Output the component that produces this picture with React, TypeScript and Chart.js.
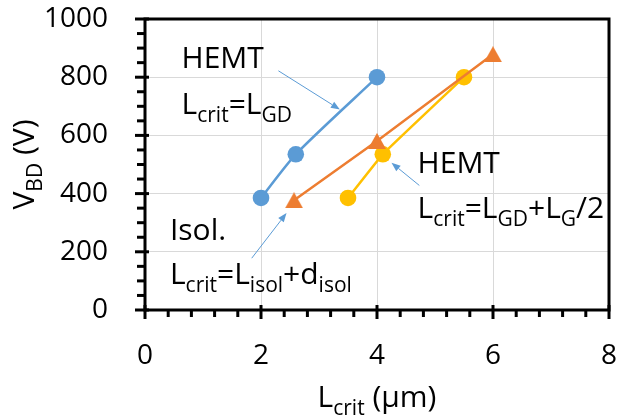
import React, { useEffect, useRef } from "react";
import { Chart, registerables } from "chart.js";

Chart.register(...registerables);

const FONT = '"Open Sans", "DejaVu Sans", sans-serif';

// ---- data ----
const xMin = 0;
const xMax = 8;
const xStep = 2;
const yMin = 0;
const yMax = 1000;
const yStep = 200;

const hemtGdX = [2, 2.6, 4];
const hemtGdY = [385, 535, 800];
const isolX = [2.57, 4, 6];
const isolY = [377, 581, 879];
const hemtHalfX = [3.5, 4.1, 5.5];
const hemtHalfY = [385, 535, 800];

// rich-text annotations (anchor = left baseline, in data units)
type Seg = { t: string; sub?: boolean };
const annoText: { x: number; y: number; segs: Seg[] }[] = [
  { x: 0.63, y: 830, segs: [{ t: "HEMT" }] },
  { x: 0.63, y: 675, segs: [{ t: "L" }, { t: "crit", sub: true }, { t: "=L" }, { t: "GD", sub: true }] },
  { x: 4.7, y: 470, segs: [{ t: "HEMT" }] },
  {
    x: 4.7,
    y: 316,
    segs: [
      { t: "L" }, { t: "crit", sub: true }, { t: "=L" }, { t: "GD", sub: true },
      { t: "+L" }, { t: "G", sub: true }, { t: "/2" },
    ],
  },
  { x: 0.43, y: 241, segs: [{ t: "Isol." }] },
  {
    x: 0.43,
    y: 91,
    segs: [{ t: "L" }, { t: "crit", sub: true }, { t: "=L" }, { t: "isol", sub: true }, { t: "+d" }, { t: "isol", sub: true }],
  },
];

// arrows [fromX, fromY, toX, toY] in data units
const arrows: number[][] = [
  [2.3, 822, 3.36, 689],
  [4.73, 428, 4.25, 506],
  [1.84, 178, 2.44, 333],
];

const xTitle: Seg[] = [{ t: "L" }, { t: "crit", sub: true }, { t: " (\u00B5m)" }];
const yTitle: Seg[] = [{ t: "V" }, { t: "BD", sub: true }, { t: " (V)" }];

const BLUE = "#5B9BD5";
const ORANGE = "#ED7D31";
const YELLOW = "#FFC000";

const MAIN = 30;
const SUB = 21;
const DROP = 8;

function richWidth(ctx: CanvasRenderingContext2D, segs: Seg[]) {
  let w = 0;
  for (const s of segs) {
    ctx.font = `${s.sub ? SUB : MAIN}px ${FONT}`;
    w += ctx.measureText(s.t).width;
  }
  return w;
}

function drawRich(ctx: CanvasRenderingContext2D, segs: Seg[], x: number, y: number) {
  let cx = x;
  for (const s of segs) {
    ctx.font = `${s.sub ? SUB : MAIN}px ${FONT}`;
    ctx.fillText(s.t, cx, s.sub ? y + DROP : y);
    cx += ctx.measureText(s.t).width;
  }
}

function makeTriangle(color: string) {
  const w = 18;
  const h = 16;
  const c = document.createElement("canvas");
  c.width = w;
  c.height = h;
  const g = c.getContext("2d")!;
  g.fillStyle = color;
  g.beginPath();
  g.moveTo(w / 2, 0);
  g.lineTo(w, h);
  g.lineTo(0, h);
  g.closePath();
  g.fill();
  return c;
}

const decorPlugin = {
  id: "decor",
  afterDatasetsDraw(chart: any) {
    const ctx: CanvasRenderingContext2D = chart.ctx;
    const { left, right, top, bottom } = chart.chartArea;
    const xs = chart.scales.x;
    const ys = chart.scales.y;
    ctx.save();

    // frame
    ctx.strokeStyle = "#000";
    ctx.lineWidth = 3;
    ctx.strokeRect(left, top, right - left, bottom - top);

    // x ticks
    ctx.lineWidth = 3;
    for (let v = xMin; v <= xMax + 1e-9; v += 0.4) {
      const px = xs.getPixelForValue(v);
      const major = Math.abs(v / xStep - Math.round(v / xStep)) < 1e-6;
      ctx.beginPath();
      ctx.moveTo(px, major ? bottom - 5 : bottom);
      ctx.lineTo(px, major ? bottom + 9 : bottom + 7);
      ctx.stroke();
    }
    // y ticks
    for (let v = yMin; v <= yMax + 1e-9; v += 50) {
      const py = ys.getPixelForValue(v);
      const major = v % yStep === 0;
      ctx.beginPath();
      ctx.moveTo(major ? left - 10 : left - 8, py);
      ctx.lineTo(major ? left + 4 : left, py);
      ctx.stroke();
    }

    // arrows
    ctx.strokeStyle = BLUE;
    ctx.fillStyle = BLUE;
    ctx.lineWidth = 1;
    for (const a of arrows) {
      const x1 = xs.getPixelForValue(a[0]);
      const y1 = ys.getPixelForValue(a[1]);
      const x2 = xs.getPixelForValue(a[2]);
      const y2 = ys.getPixelForValue(a[3]);
      const ang = Math.atan2(y2 - y1, x2 - x1);
      const L = 9;
      const W = 3.5;
      const bx = x2 - Math.cos(ang) * L;
      const by = y2 - Math.sin(ang) * L;
      ctx.beginPath();
      ctx.moveTo(x1, y1);
      ctx.lineTo(bx, by);
      ctx.stroke();
      ctx.beginPath();
      ctx.moveTo(x2, y2);
      ctx.lineTo(bx + Math.sin(ang) * W, by - Math.cos(ang) * W);
      ctx.lineTo(bx - Math.sin(ang) * W, by + Math.cos(ang) * W);
      ctx.closePath();
      ctx.fill();
    }

    // annotations
    ctx.fillStyle = "#000";
    ctx.textBaseline = "alphabetic";
    ctx.textAlign = "left";
    for (const a of annoText) {
      drawRich(ctx, a.segs, xs.getPixelForValue(a.x), ys.getPixelForValue(a.y));
    }

    // x title
    const xw = richWidth(ctx, xTitle);
    drawRich(ctx, xTitle, (left + right) / 2 - xw / 2, 407);

    // y title
    const yw = richWidth(ctx, yTitle);
    ctx.translate(34, (top + bottom) / 2);
    ctx.rotate(-Math.PI / 2);
    drawRich(ctx, yTitle, -yw / 2, 0);

    ctx.restore();
  },
};

const zeroPad = (s: any) => {
  s.paddingTop = 0;
  s.paddingBottom = 0;
  s.paddingLeft = 0;
  s.paddingRight = 0;
};

export default function App() {
  const ref = useRef<HTMLCanvasElement | null>(null);

  useEffect(() => {
    if (!ref.current) return;
    const tri = makeTriangle(ORANGE);
    const mk = (xs: number[], ys: number[]) => xs.map((x, i) => ({ x, y: ys[i] }));
    const chart = new Chart(ref.current, {
      type: "scatter",
      data: {
        datasets: [
          {
            data: mk(hemtGdX, hemtGdY),
            showLine: true,
            borderColor: BLUE,
            backgroundColor: BLUE,
            borderWidth: 2.5,
            pointRadius: 8.3,
            pointBorderWidth: 0,
            tension: 0.25,
          },
          {
            data: mk(isolX, isolY),
            showLine: true,
            borderColor: ORANGE,
            backgroundColor: ORANGE,
            borderWidth: 2.5,
            pointStyle: tri as any,
            tension: 0,
          },
          {
            data: mk(hemtHalfX, hemtHalfY),
            showLine: true,
            borderColor: YELLOW,
            backgroundColor: YELLOW,
            borderWidth: 2.5,
            pointRadius: 8.3,
            pointBorderWidth: 0,
            tension: 0.1,
          },
        ],
      },
      options: {
        animation: false,
        responsive: true,
        maintainAspectRatio: false,
        events: [],
        layout: { padding: { top: 19, right: 10, left: 0, bottom: 0 } },
        plugins: { legend: { display: false }, tooltip: { enabled: false }, title: { display: false } },
        scales: {
          x: {
            type: "linear",
            min: xMin,
            max: xMax,
            afterFit: (s: any) => {
              s.height = 106;
              zeroPad(s);
            },
            ticks: {
              stepSize: xStep,
              padding: 29,
              color: "#000",
              font: { family: FONT, size: 28 },
              maxRotation: 0,
              callback: (v: any) => String(v),
            },
            grid: { color: "#D9D9D9", lineWidth: 1, drawTicks: false },
            border: { display: false },
          },
          y: {
            type: "linear",
            min: yMin,
            max: yMax,
            afterFit: (s: any) => {
              s.width = 145;
              zeroPad(s);
            },
            ticks: {
              stepSize: yStep,
              padding: 37,
              color: "#000",
              font: { family: FONT, size: 28 },
              callback: (v: any) => String(v),
            },
            grid: { color: "#D9D9D9", lineWidth: 1, drawTicks: false },
            border: { display: false },
          },
        },
      },
      plugins: [decorPlugin],
    });
    return () => chart.destroy();
  }, []);

  return (
    <div style={{ position: "absolute", left: 0, top: 0, width: 619, height: 416, background: "#fff" }}>
      <canvas ref={ref} />
    </div>
  );
}
